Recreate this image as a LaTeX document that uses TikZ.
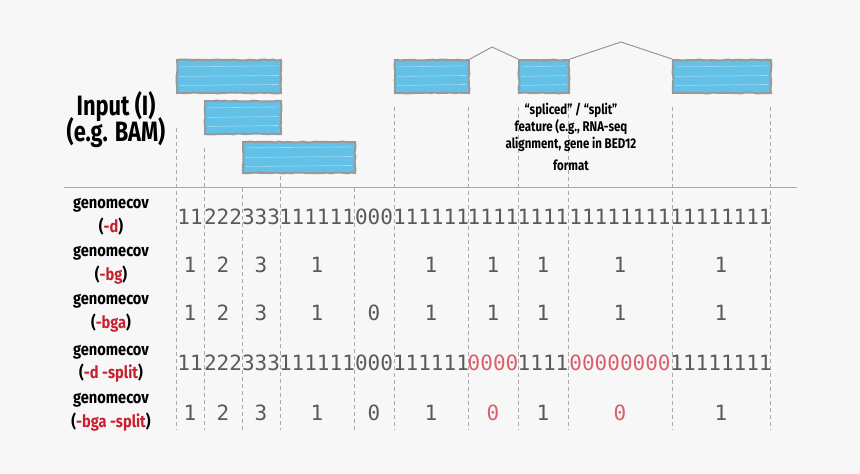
\documentclass[tikz,border=0pt]{standalone}
\usepackage{fontspec}
\usetikzlibrary{decorations.pathmorphing}
\newfontfamily\handA[FakeStretch=0.78]{Fira Sans}
\newfontfamily\handB[FakeStretch=0.86]{Fira Sans}
\newfontfamily\handC[FakeStretch=0.82]{Fira Sans}
\newfontfamily\mono{DejaVu Sans Mono}
\definecolor{bgc}{HTML}{F7F7F7}
\definecolor{exonc}{HTML}{63C1E8}
\definecolor{borderc}{HTML}{999999}
\definecolor{numgray}{HTML}{5A5A5A}
\definecolor{numred}{HTML}{D9606C}
\definecolor{labred}{HTML}{C8202F}
\definecolor{dashc}{HTML}{AAAAAA}
\tikzset{
  exon/.style={draw=borderc, line width=2pt, fill=exonc, inner sep=0, anchor=north west,
    decorate, decoration={random steps, segment length=4pt, amplitude=0.5pt},
    path picture={
      \foreach \f in {0.2,0.5,0.82}{
        \draw[white, opacity=0.4, line width=0.6pt]
          ([xshift=3pt,yshift=\f*30pt-15pt]path picture bounding box.west) --
          ([xshift=-3pt,yshift=\f*30pt-14pt]path picture bounding box.east);
      }
    }},
  num/.style={font=\mono\fontsize{21}{21}\selectfont, text=numgray, inner sep=0},
  rowlab/.style={font=\handB\bfseries\fontsize{17}{17}\selectfont, inner sep=0},
  inlab/.style={font=\handA\bfseries\fontsize{28}{28}\selectfont, inner sep=0},
  note/.style={font=\handC\bfseries\fontsize{14}{14}\selectfont, inner sep=0},
  guide/.style={draw=dashc, dashed, dash pattern=on 4pt off 3pt, line width=0.9pt},
  intron/.style={draw=borderc, line width=1pt}
}
\begin{document}
\begin{tikzpicture}[x=1pt,y=-1pt]
\pgfmathsetseed{7}
\fill[bgc] (0,0) rectangle (860,474);
\useasboundingbox (0,0) rectangle (860,474);

% guide lines
\foreach \x/\ys in {176/128,204/148,242/188,280/148,354/188,394/107,468/107,518/107,568/107,672/107,770/107}
  \draw[guide] (\x,\ys) -- (\x,430);

% separator
\draw[dashc, line width=0.9pt] (64,187) -- (797,187);

% exons
\node[exon, minimum width=104, minimum height=33] (e1) at (176,59) {};
\node[exon, minimum width=76, minimum height=33] (e2) at (204,100) {};
\node[exon, minimum width=112, minimum height=31] (e3) at (242,141) {};
\node[exon, minimum width=74, minimum height=33] (e4) at (394,59) {};
\node[exon, minimum width=50, minimum height=33] (e5) at (518,59) {};
\node[exon, minimum width=98, minimum height=33] (e6) at (672,59) {};
\coordinate (a1) at (492,47);
\coordinate (a2) at (621,42);
\draw[intron] (e4.north east) -- (a1) -- (e5.north west);
\draw[intron] (e5.north east) -- (a2) -- (e6.north west);

% input label
\node[inlab] (in1) at (116,107) {Input (I)};
\node[inlab] (in2) at (116,133) {(e.g. BAM)};

% note
\node[note] (n1) at (571,110) {“spliced” / “split”};
\node[note] (n2) at (571,127) {feature (e.g., RNA-seq};
\node[note] (n3) at (571,144) {alignment, gene in BED12};
\node[note] (n4) at (571,165) {format};

% row labels
\node[rowlab] (g1) at (111,205) {genomecov};
\node[rowlab] (o1) at (111,227) {(\textcolor{labred}{-d})};
\node[rowlab] (g2) at (111,253) {genomecov};
\node[rowlab] (o2) at (111,275) {(\textcolor{labred}{-bg})};
\node[rowlab] (g3) at (111,301) {genomecov};
\node[rowlab] (o3) at (111,323) {(\textcolor{labred}{-bga})};
\node[rowlab] (g4) at (111,352) {genomecov};
\node[rowlab] (o4) at (111,373) {(\textcolor{labred}{-d -split})};
\node[rowlab] (g5) at (111,400) {genomecov};
\node[rowlab] (o5) at (111,422) {(\textcolor{labred}{-bga -split})};

% row -d
\foreach \x/\t [count=\i] in {190/11,223/222,261/333,317/111111,374/000,431/111111,493/1111,543/1111,620/11111111,721/11111111}
  \node[num] (d\i) at (\x,217) {\t};
% row -bg
\foreach \x/\t [count=\i] in {190/1,223/2,261/3,317/1,431/1,493/1,543/1,620/1,721/1}
  \node[num] (bg\i) at (\x,265) {\t};
% row -bga
\foreach \x/\t [count=\i] in {190/1,223/2,261/3,317/1,374/0,431/1,493/1,543/1,620/1,721/1}
  \node[num] (bga\i) at (\x,313) {\t};
% row -d -split
\foreach \x/\t/\c [count=\i] in {190/11/numgray,223/222/numgray,261/333/numgray,317/111111/numgray,374/000/numgray,431/111111/numgray,493/0000/numred,543/1111/numgray,620/00000000/numred,721/11111111/numgray}
  \node[num, text=\c] (ds\i) at (\x,363) {\t};
% row -bga -split
\foreach \x/\t/\c [count=\i] in {190/1/numgray,223/2/numgray,261/3/numgray,317/1/numgray,374/0/numgray,431/1/numgray,493/0/numred,543/1/numgray,620/0/numred,721/1/numgray}
  \node[num, text=\c] (bs\i) at (\x,413) {\t};
\end{tikzpicture}
\end{document}
